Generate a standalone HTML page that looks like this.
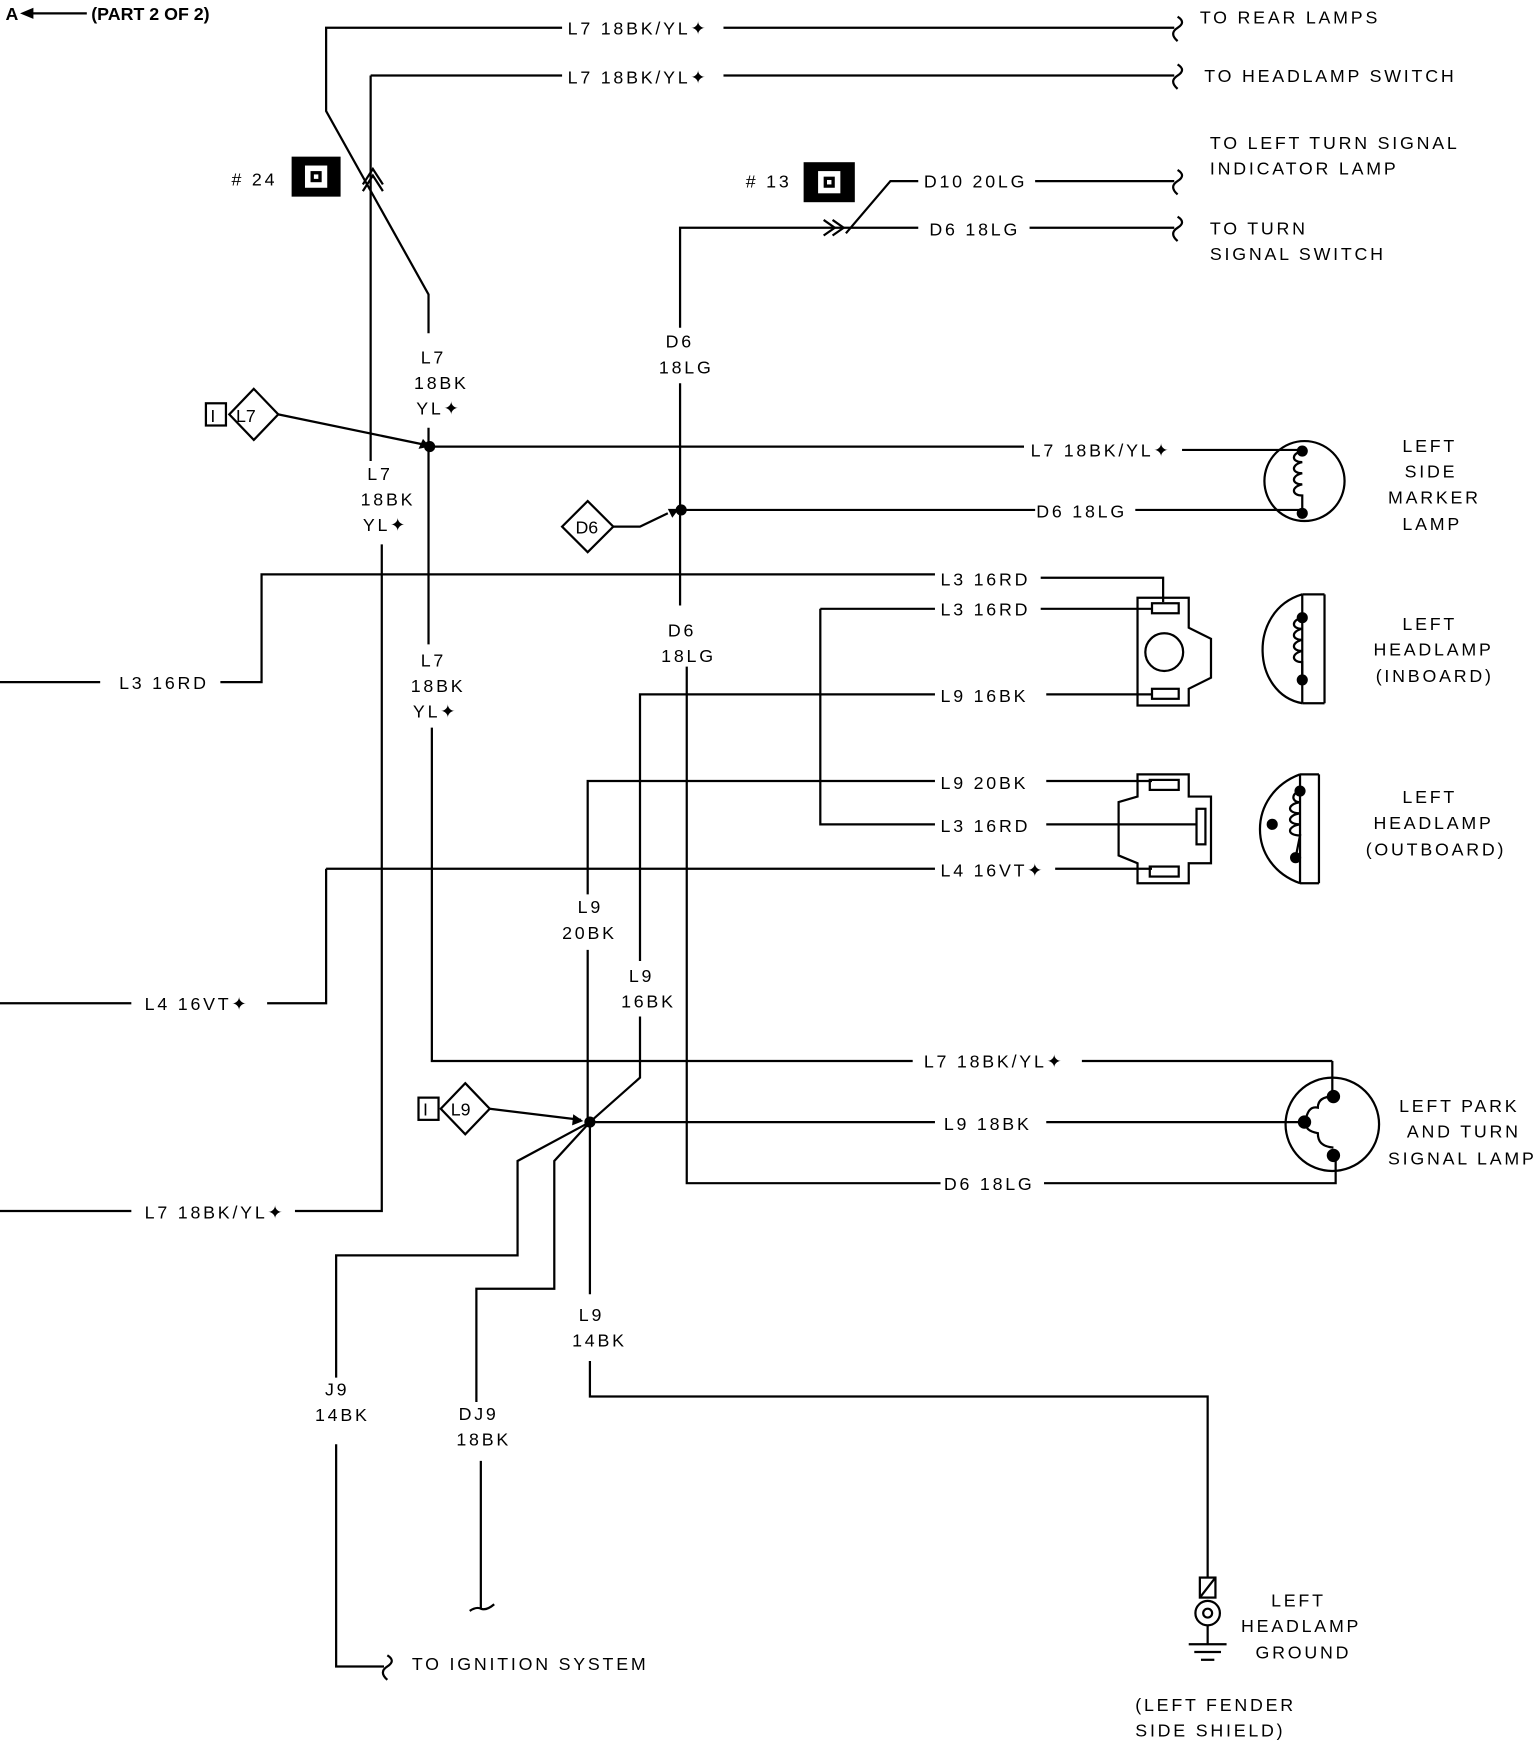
<!DOCTYPE html>
<html><head><meta charset="utf-8"><style>
html,body{margin:0;padding:0;background:#fff;}
svg{display:block;}
text{font-family:"Liberation Sans",sans-serif;font-size:16px;fill:#000;letter-spacing:2.5px;}
</style></head><body>
<svg width="1536" height="1742" viewBox="0 0 1380 1568" preserveAspectRatio="none" xmlns="http://www.w3.org/2000/svg">
<g stroke="#000" stroke-width="2" fill="none">
<line x1="28" y1="12" x2="78" y2="12"/>
<polyline points="505,25 293,25 293,100 385,265 385,300"/>
<line x1="650" y1="25" x2="1055" y2="25"/>
<line x1="333" y1="68" x2="505" y2="68"/>
<line x1="650" y1="68" x2="1055" y2="68"/>
<line x1="333" y1="68" x2="333" y2="415"/>
<polyline points="343,490 343,1090 265,1090"/>
<line x1="0" y1="1090" x2="118" y2="1090"/>
<polyline points="326,172 335,158 344,172"/>
<polyline points="326,166 335,152 344,166"/>
<line x1="385" y1="385" x2="385" y2="580"/>
<polyline points="388,655 388,955 820,955"/>
<line x1="972" y1="955" x2="1197" y2="955"/>
<line x1="1197" y1="955" x2="1197" y2="985"/>
<line x1="386" y1="402" x2="920" y2="402"/>
<polyline points="1062,405 1170,405"/>
<polyline points="760,210 800,163 825,163"/>
<line x1="930" y1="163" x2="1055" y2="163"/>
<polyline points="611,295 611,205 825,205"/>
<polyline points="740,198 750,205 740,212"/>
<polyline points="748,198 758,205 748,212"/>
<line x1="925" y1="205" x2="1055" y2="205"/>
<line x1="611" y1="345" x2="611" y2="545"/>
<line x1="612" y1="459" x2="930" y2="459"/>
<line x1="1020" y1="459" x2="1170" y2="459"/>
<polyline points="617,600 617,1065 845,1065"/>
<polyline points="938,1065 1200,1065 1200,1040"/>
<line x1="0" y1="614" x2="90" y2="614"/>
<polyline points="198,614 235,614 235,517 840,517"/>
<polyline points="935,520 1045,520 1045,542"/>
<line x1="737" y1="548" x2="840" y2="548"/>
<line x1="935" y1="548" x2="1035" y2="548"/>
<polyline points="737,548 737,742 840,742"/>
<line x1="940" y1="742" x2="1075" y2="742"/>
<polyline points="575,865 575,625 840,625"/>
<line x1="940" y1="625" x2="1035" y2="625"/>
<polyline points="575,915 575,970 530,1010"/>
<polyline points="528,805 528,703 840,703"/>
<line x1="940" y1="703" x2="1035" y2="703"/>
<line x1="528" y1="855" x2="528" y2="1010"/>
<line x1="293" y1="782" x2="840" y2="782"/>
<line x1="948" y1="782" x2="1035" y2="782"/>
<polyline points="293,782 293,903 240,903"/>
<line x1="0" y1="903" x2="118" y2="903"/>
<line x1="530" y1="1010" x2="840" y2="1010"/>
<line x1="940" y1="1010" x2="1170" y2="1010"/>
<polyline points="530,1010 465,1045 465,1130 302,1130 302,1240"/>
<polyline points="302,1300 302,1500 345,1500"/>
<polyline points="530,1010 498,1045 498,1160 428,1160 428,1262"/>
<line x1="432" y1="1315" x2="432" y2="1448"/>
<path d="M422,1450 q6,-4 10,-2 q5,2 12,-4"/>
<line x1="530" y1="1010" x2="530" y2="1165"/>
<polyline points="530,1225 530,1257 1085,1257 1085,1420"/>
<rect x="1078" y="1420" width="14" height="18"/>
<line x1="1078" y1="1438" x2="1092" y2="1420"/>
<circle cx="1085" cy="1452" r="11"/>
<circle cx="1085" cy="1452" r="4"/>
<line x1="1085" y1="1463" x2="1085" y2="1480"/>
<line x1="1068" y1="1480" x2="1102" y2="1480"/>
<line x1="1073" y1="1487" x2="1097" y2="1487"/>
<line x1="1079" y1="1494" x2="1091" y2="1494"/>
<path d="M1058,15 q8,5 0,10 q-8,5 0,12"/>
<path d="M1058,58 q8,5 0,10 q-8,5 0,12"/>
<path d="M1058,153 q8,5 0,10 q-8,5 0,12"/>
<path d="M1058,195 q8,5 0,10 q-8,5 0,12"/>
<path d="M348,1490 q8,5 0,10 q-8,5 0,12"/>
<rect x="185" y="363" width="18" height="20"/>
<polygon points="228,350 250,373 228,396 206,373"/>
<line x1="250" y1="373" x2="380" y2="400"/>
<polygon points="505,474 528,451 551,474 528,497"/>
<polyline points="551,474 575,474 600,462"/>
<rect x="376" y="988" width="18" height="20"/>
<polygon points="418,975 440,998 418,1021 396,998"/>
<line x1="440" y1="998" x2="522" y2="1008"/>
<circle cx="1172" cy="433" r="36"/>
<path d="M1170,406 c-10,2 -10,10 0,10 c-10,2 -10,10 0,10 c-10,2 -10,10 0,10 c-10,2 -10,10 0,10 l0,14"/>
<path d="M1022,538 L1068,538 L1068,565 L1088,575 L1088,610 L1068,620 L1068,635 L1022,635 Z"/>
<rect x="1035" y="543" width="24" height="9"/>
<rect x="1035" y="620" width="24" height="9"/>
<circle cx="1046" cy="587" r="17"/>
<path d="M1170,535 C1120,550 1125,625 1170,633"/>
<line x1="1170" y1="535" x2="1170" y2="633"/>
<line x1="1190" y1="535" x2="1190" y2="633"/>
<line x1="1170" y1="535" x2="1190" y2="535"/>
<line x1="1170" y1="633" x2="1190" y2="633"/>
<path d="M1170,556 c-10,2 -10,10 0,10 c-10,2 -10,10 0,10 c-10,2 -10,10 0,10 c-10,2 -10,10 0,10 l0,12"/>
<path d="M1022,697 L1068,697 L1068,717 L1088,717 L1088,777 L1068,777 L1068,795 L1022,795 L1022,777 L1005,770 L1005,722 L1022,717 Z"/>
<rect x="1033" y="702" width="26" height="9"/>
<rect x="1033" y="780" width="26" height="9"/>
<rect x="1075" y="728" width="8" height="32"/>
<path d="M1168,697 C1120,715 1120,778 1168,795"/>
<line x1="1168" y1="697" x2="1185" y2="697"/>
<line x1="1185" y1="697" x2="1185" y2="795"/>
<line x1="1168" y1="795" x2="1185" y2="795"/>
<line x1="1168" y1="697" x2="1168" y2="795"/>
<path d="M1168,712 c-8,2 -8,10 0,10 c-12,2 -12,10 0,10 c-12,2 -12,10 0,10 c-12,2 -12,10 0,10 l-4,20"/>
<circle cx="1197" cy="1012" r="42"/>
<path d="M1198,987 c-10,0 -14,4 -14,10 c-10,-2 -10,10 -12,13 c2,5 2,8 12,10 c0,8 4,12 14,13"/>
</g>
<g fill="#000">
<circle cx="386" cy="402" r="5"/>
<circle cx="612" cy="459" r="5"/>
<circle cx="530" cy="1010" r="5"/>
<polygon points="380,395 386,402 376,404"/>
<polygon points="600,458 610,458 604,466"/>
<polygon points="515,1003 524,1009 514,1013"/>
<polygon points="18,12 30,7 30,17"/>
<circle cx="1170" cy="406" r="5"/><circle cx="1170" cy="462" r="5"/>
<circle cx="1170" cy="556" r="5"/><circle cx="1170" cy="612" r="5"/>
<circle cx="1143" cy="742" r="5"/><circle cx="1168" cy="712" r="5"/><circle cx="1164" cy="772" r="5"/>
<circle cx="1198" cy="987" r="6"/><circle cx="1172" cy="1010" r="6"/><circle cx="1198" cy="1040" r="6"/>
<rect x="262" y="141" width="44" height="36"/>
<rect x="722" y="146" width="46" height="36"/>
</g>
<g fill="#fff" stroke="none">
<rect x="274" y="149" width="20" height="20"/>
<rect x="735" y="154" width="20" height="20"/>
</g>
<g fill="#000">
<rect x="279" y="154" width="10" height="10"/><rect x="740" y="159" width="10" height="10"/>
</g>
<g fill="#fff"><rect x="282" y="157" width="4" height="4"/><rect x="743" y="162" width="4" height="4"/></g>
<text x="5" y="18" style="font-weight:bold;letter-spacing:0">A</text>
<text x="82" y="18" style="font-weight:bold;letter-spacing:0">(PART 2 OF 2)</text>
<text x="510" y="31">L7  18BK/YL✦</text>
<text x="510" y="75">L7  18BK/YL✦</text>
<text x="1078" y="21">TO REAR LAMPS</text>
<text x="1082" y="74">TO HEADLAMP SWITCH</text>
<text x="1087" y="134">TO LEFT TURN SIGNAL</text>
<text x="1087" y="157">INDICATOR LAMP</text>
<text x="1087" y="211">TO TURN</text>
<text x="1087" y="234">SIGNAL SWITCH</text>
<text x="208" y="167"># 24</text>
<text x="670" y="169"># 13</text>
<text x="830" y="169">D10 20LG</text>
<text x="835" y="212">D6 18LG</text>
<text x="598" y="313">D6</text><text x="592" y="336">18LG</text>
<text x="378" y="327">L7</text><text x="372" y="350">18BK</text><text x="374" y="373">YL✦</text>
<text x="212" y="380" style="letter-spacing:0">L7</text>
<text x="189" y="380">I</text>
<text x="330" y="432">L7</text><text x="324" y="455">18BK</text><text x="326" y="478">YL✦</text>
<text x="926" y="411">L7  18BK/YL✦</text>
<text x="931" y="466">D6  18LG</text>
<text x="517" y="480" style="letter-spacing:0">D6</text>
<text x="1260" y="407">LEFT</text><text x="1262" y="430">SIDE</text><text x="1247" y="453">MARKER</text><text x="1260" y="477">LAMP</text>
<text x="845" y="527">L3  16RD</text>
<text x="845" y="554">L3  16RD</text>
<text x="107" y="620">L3  16RD</text>
<text x="600" y="573">D6</text><text x="594" y="596">18LG</text>
<text x="378" y="600">L7</text><text x="369" y="623">18BK</text><text x="371" y="646">YL✦</text>
<text x="845" y="632">L9  16BK</text>
<text x="1260" y="567">LEFT</text><text x="1234" y="590">HEADLAMP</text><text x="1236" y="614">(INBOARD)</text>
<text x="845" y="710">L9  20BK</text>
<text x="845" y="749">L3  16RD</text>
<text x="845" y="789">L4  16VT✦</text>
<text x="1260" y="723">LEFT</text><text x="1234" y="746">HEADLAMP</text><text x="1227" y="770">(OUTBOARD)</text>
<text x="519" y="822">L9</text><text x="505" y="845">20BK</text>
<text x="565" y="884">L9</text><text x="558" y="907">16BK</text>
<text x="130" y="909">L4  16VT✦</text>
<text x="830" y="961">L7  18BK/YL✦</text>
<text x="848" y="1017">L9  18BK</text>
<text x="848" y="1071">D6  18LG</text>
<text x="1257" y="1001">LEFT PARK</text><text x="1264" y="1024">AND TURN</text><text x="1247" y="1048">SIGNAL LAMP</text>
<text x="380" y="1004">I</text><text x="405" y="1004" style="letter-spacing:0">L9</text>
<text x="130" y="1097">L7  18BK/YL✦</text>
<text x="520" y="1189">L9</text><text x="514" y="1212">14BK</text>
<text x="292" y="1256">J9</text><text x="283" y="1279">14BK</text>
<text x="412" y="1278">DJ9</text><text x="410" y="1301">18BK</text>
<text x="370" y="1503">TO IGNITION SYSTEM</text>
<text x="1142" y="1446">LEFT</text><text x="1115" y="1469">HEADLAMP</text><text x="1128" y="1493">GROUND</text>
<text x="1020" y="1540">(LEFT FENDER</text><text x="1020" y="1563">SIDE SHIELD)</text>
</svg>
</body></html>
